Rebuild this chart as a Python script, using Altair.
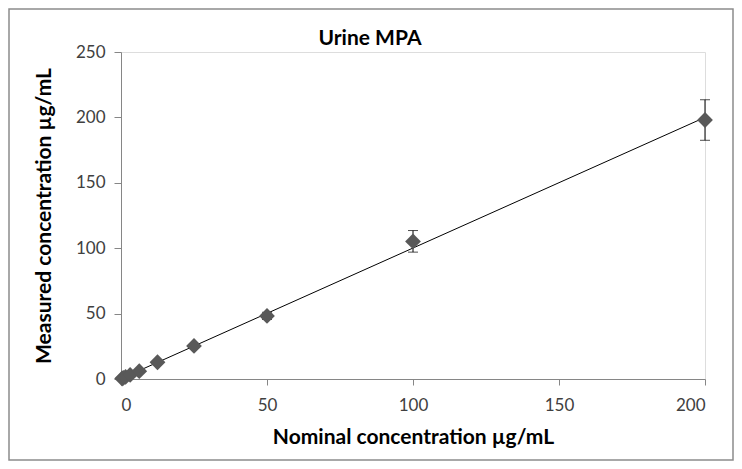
import altair as alt
import pandas as pd

nominal = [0.39, 0.78, 1.56, 3.125, 6.25, 12.5, 25, 50, 100, 200]
measured = [0.4, 0.8, 1.6, 3.1, 6.0, 12.8, 25.3, 48.2, 105.2, 198.0]
err_low = [0.4, 0.7, 1.4, 2.8, 5.5, 11.8, 23.8, 45.5, 97.0, 182.5]
err_high = [0.45, 0.9, 1.8, 3.4, 6.5, 13.8, 26.8, 51.0, 113.5, 213.5]

df = pd.DataFrame({"x": nominal, "y": measured, "lo": err_low, "hi": err_high})

FONT = "Lato"
xs = alt.Scale(domain=[0, 200], nice=False)
ys = alt.Scale(domain=[0, 250], nice=False)

base = alt.Chart(df)

xaxis = alt.Axis(values=[0, 50, 100, 150, 200], grid=False, domainColor="#868686",
                 tickColor="#868686", tickSize=6, labelFontSize=17, labelColor="#404040",
                 labelFont=FONT, title="Nominal concentration µg/mL", titleFont=FONT,
                 titleFontSize=21, titleFontWeight="bold", titleColor="#000000",
                 titlePadding=13, labelPadding=12)
yaxis = alt.Axis(values=[0, 50, 100, 150, 200, 250], grid=False, domainColor="#868686",
                 tickColor="#868686", tickSize=7, labelFontSize=17, labelColor="#404040",
                 labelFont=FONT, title="Measured concentration µg/mL", titleFont=FONT,
                 titleFontSize=21, titleFontWeight="bold", titleColor="#000000",
                 titlePadding=21, labelPadding=9)

trend = base.transform_regression("x", "y").mark_line(color="#000000", strokeWidth=1).encode(
    x=alt.X("x:Q", scale=xs, axis=xaxis),
    y=alt.Y("y:Q", scale=ys, axis=yaxis),
)

rules = base.mark_rule(color="#000000", strokeWidth=1).encode(
    x=alt.X("x:Q", scale=xs), y=alt.Y("lo:Q", scale=ys), y2="hi:Q"
)
cap_lo = base.mark_tick(color="#000000", thickness=1, size=10, orient="horizontal").encode(
    x=alt.X("x:Q", scale=xs), y=alt.Y("lo:Q", scale=ys)
)
cap_hi = base.mark_tick(color="#000000", thickness=1, size=10, orient="horizontal").encode(
    x=alt.X("x:Q", scale=xs), y=alt.Y("hi:Q", scale=ys)
)

pts = base.mark_point(shape="diamond", filled=True, size=250, color="#595959", opacity=1).encode(
    x=alt.X("x:Q", scale=xs), y=alt.Y("y:Q", scale=ys)
)

one = pd.DataFrame({"a": [0]})
border = alt.Chart(one).mark_rect(fill=None, stroke="#8c8c8c", strokeWidth=1.5).encode(
    x=alt.value(-112), x2=alt.value(612), y=alt.value(-43), y2=alt.value(408)
)
title = alt.Chart(one).mark_text(text="Urine MPA", font=FONT, fontSize=21, fontWeight="bold",
                                 color="#000000", align="center", baseline="middle").encode(
    x=alt.value(249), y=alt.value(-13)
)

chart = alt.layer(border, trend, rules, cap_lo, cap_hi, pts, title).properties(
    width=584, height=327,
    autosize=alt.AutoSizeParams(type="none"),
    padding={"left": 113, "top": 44, "right": 29, "bottom": 82},
).configure_view(stroke=None).configure(background="#ffffff")

chart.save("out.html", embed_options={"renderer": "svg", "actions": False})
